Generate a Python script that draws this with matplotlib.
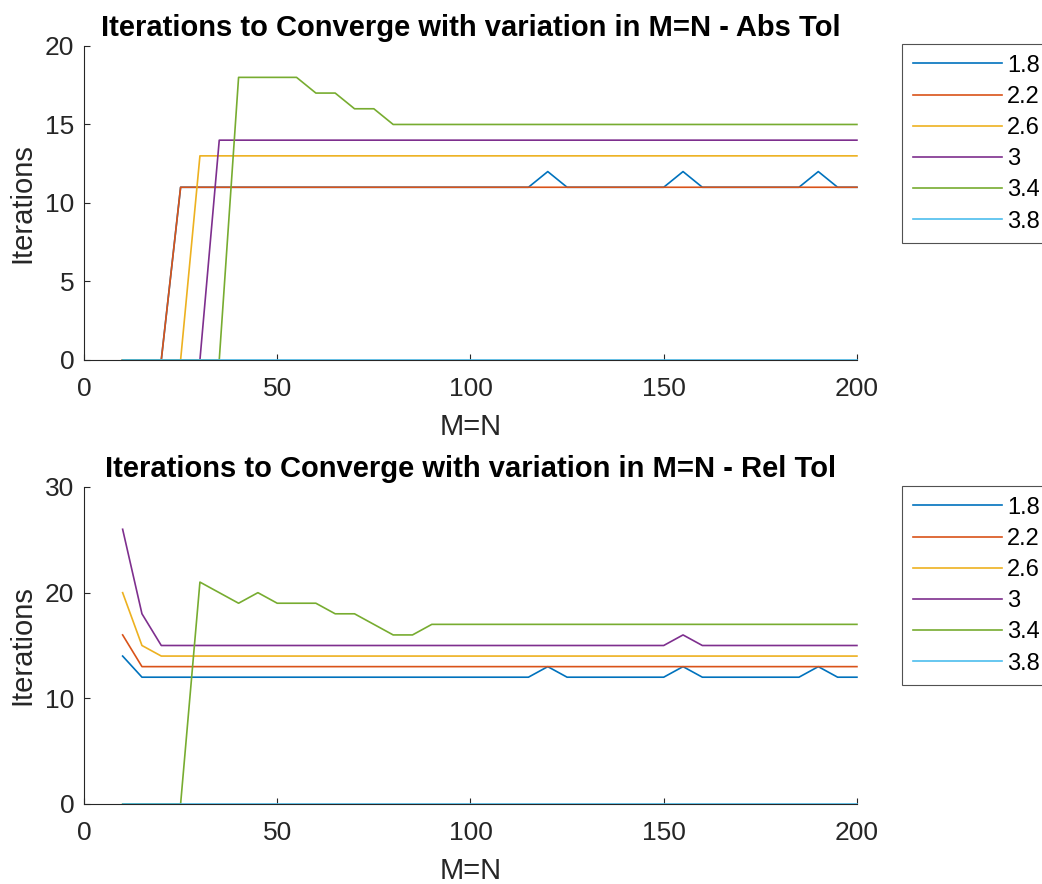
import matplotlib.pyplot as plt
import numpy as np

plt.rcParams['font.family'] = ['Liberation Sans', 'DejaVu Sans']

title_size = 21
font_size = 19
label_size = 21

# grid sizes M=N
mn = list(range(10, 205, 5))
labels = ["1.8", "2.2", "2.6", "3", "3.4", "3.8"]
colors = ["#0072BD", "#D95319", "#EDB120", "#7E2F8E", "#77AC30", "#4DBEEE"]

# absolute tolerance
abs_18 = [0, 0, 0, 11, 11, 11, 11, 11, 11, 11, 11, 11, 11, 11, 11, 11, 11, 11, 11, 11, 11, 11, 12, 11, 11, 11, 11, 11, 11, 12, 11, 11, 11, 11, 11, 11, 12, 11, 11]
abs_22 = [0, 0, 0] + [11] * 36
abs_26 = [0, 0, 0, 0] + [13] * 35
abs_30 = [0, 0, 0, 0, 0] + [14] * 34
abs_34 = [0, 0, 0, 0, 0, 0, 18, 18, 18, 18, 17, 17, 16, 16] + [15] * 25
abs_38 = [0] * 39

# relative tolerance
rel_18 = [14, 12, 12, 12, 12, 12, 12, 12, 12, 12, 12, 12, 12, 12, 12, 12, 12, 12, 12, 12, 12, 12, 13, 12, 12, 12, 12, 12, 12, 13, 12, 12, 12, 12, 12, 12, 13, 12, 12]
rel_22 = [16] + [13] * 38
rel_26 = [20, 15] + [14] * 37
rel_30 = [26, 18, 15, 15, 15, 15, 15, 15, 15, 15, 15, 15, 15, 15, 15, 15, 15, 15, 15, 15, 15, 15, 15, 15, 15, 15, 15, 15, 15, 16, 15, 15, 15, 15, 15, 15, 15, 15, 15]
rel_34 = [0, 0, 0, 0, 21, 20, 19, 20, 19, 19, 19, 18, 18, 17, 16, 16, 17] + [17] * 22
rel_38 = [0] * 39

abs_series = [abs_18, abs_22, abs_26, abs_30, abs_34, abs_38]
rel_series = [rel_18, rel_22, rel_26, rel_30, rel_34, rel_38]


def style_axes(ax, ymax, ystep):
    for side in ["top", "right"]:
        ax.spines[side].set_visible(False)
    for side in ["left", "bottom"]:
        ax.spines[side].set_color("#262626")
        ax.spines[side].set_linewidth(0.8)
    ax.set_xlim(0, 200)
    ax.set_ylim(0, ymax)
    ax.set_xticks(np.arange(0, 201, 50))
    ax.set_yticks(np.arange(0, ymax + 1, ystep))
    ax.tick_params(direction="in", length=4, width=0.8, colors="#262626", labelsize=font_size)
    ax.tick_params(axis="x", pad=12)
    ax.tick_params(axis="y", pad=7)
    ax.set_xlabel("M=N", fontsize=label_size, color="#262626", labelpad=9)
    ax.set_ylabel("Iterations", fontsize=label_size, color="#262626", labelpad=6)


fig = plt.figure(figsize=(10.42, 8.84), dpi=100)
ax1 = fig.add_axes([0.0806, 0.5928, 0.7418, 0.3552])
ax2 = fig.add_axes([0.0806, 0.0905, 0.7418, 0.3586])

for ax, series, title, ymax, ystep, leg_top in [
    (ax1, abs_series, "Iterations to Converge with variation in M=N - Abs Tol", 20, 5, 1 - 44 / 884),
    (ax2, rel_series, "Iterations to Converge with variation in M=N - Rel Tol", 30, 10, 1 - 486 / 884),
]:
    for vals, lab, col in zip(series, labels, colors):
        ax.plot(mn, vals, color=col, lw=1.2, label=lab, clip_on=False)
    style_axes(ax, ymax, ystep)
    ax.set_title(title, fontsize=title_size, fontweight="bold", pad=7)
    leg = ax.legend(loc="upper left", bbox_to_anchor=(902 / 1042, leg_top), bbox_transform=fig.transFigure,
                    fontsize=17, frameon=True, fancybox=False, handlelength=3.8, handletextpad=0.2,
                    labelspacing=0.39, borderpad=0.45, borderaxespad=0)
    leg.get_frame().set_edgecolor("#262626")
    leg.get_frame().set_linewidth(0.8)

fig.savefig("out.png", dpi=100)
